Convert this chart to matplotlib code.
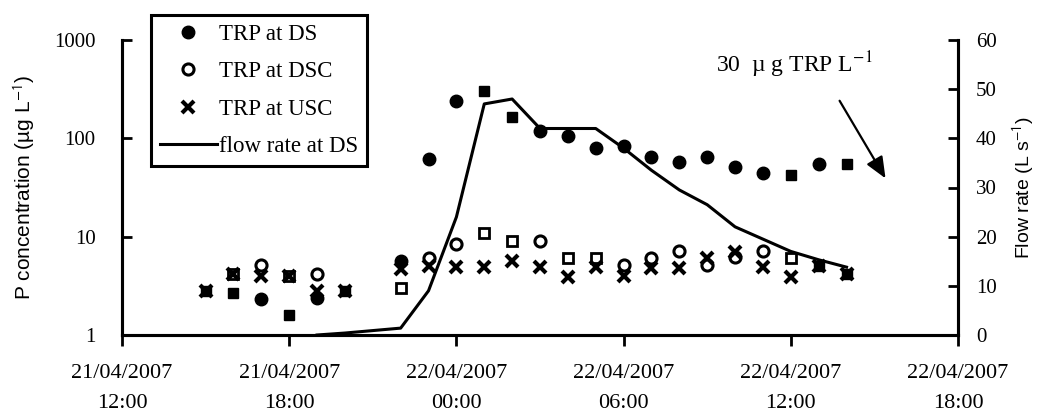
import numpy as np
import matplotlib
matplotlib.use("Agg")
import matplotlib.pyplot as plt
from matplotlib.lines import Line2D

# ── data (hours after 21/04/2007 12:00) ───────────────────
ds_hours = [5, 7, 10, 11, 12, 15, 16, 17, 18, 19, 20, 21, 22, 23, 25]
ds_vals  = [2.3, 2.4, 5.6, 62, 240, 120, 105, 80, 83, 65, 58, 65, 51, 44, 55]

dsc_hours = [5, 7, 11, 12, 15, 18, 19, 20, 21, 22, 23]
dsc_vals  = [5.1, 4.2, 6.0, 8.5, 9.0, 5.2, 6.0, 7.2, 5.2, 6.2, 7.2]

usc_hours = [3, 4, 5, 6, 7, 8, 10, 11, 12, 13, 14, 15, 16, 17, 18, 19, 20, 21, 22, 23, 24, 25, 26]
usc_vals  = [2.8, 4.2, 4.0, 4.0, 2.8, 2.8, 4.7, 5.0, 4.9, 4.9, 5.6, 4.9, 3.9, 4.9,
             4.0, 4.8, 4.8, 6.0, 7.0, 4.9, 3.9, 5.0, 4.2]

# square markers with no legend entry in the original
sqf_hours = [3, 4, 6, 8, 13, 14, 24, 25, 26, 26]
sqf_vals  = [2.8, 2.7, 1.6, 2.8, 300, 165, 42, 5.0, 55, 4.2]

sqo_hours = [4, 6, 10, 13, 14, 16, 17, 24]
sqo_vals  = [4.2, 4.0, 3.0, 11, 9.0, 6.0, 6.0, 6.0]

flow_hours = [7, 8, 9, 10, 11, 12, 13, 14, 15, 16, 17, 18, 19, 20, 21, 22, 23, 24, 25, 26]
flow_vals  = [0, 0.4, 0.9, 1.4, 9, 24, 47, 48, 42, 42, 42, 38, 33.5, 29.5, 26.5, 22,
              19.5, 17, 15.3, 13.8]

xtick_pos = [0, 6, 12, 18, 24, 30]
xtick_lab = ["21/04/2007\n12:00", "21/04/2007\n18:00", "22/04/2007\n00:00",
             "22/04/2007\n06:00", "22/04/2007\n12:00", "22/04/2007\n18:00"]

# ── plot ──────────────────────────────────────────────────
serif = "Liberation Serif"
sans = "Liberation Sans"
plt.rcParams["mathtext.fontset"] = "stix"

fig = plt.figure(figsize=(10.46, 4.16), dpi=100)
ax = fig.add_axes([122/1046, 1-335/416, 836/1046, 295/416])
ax2 = ax.twinx()

ms = 8
ax.plot(sqf_hours, sqf_vals, ls="none", marker="s", ms=ms-1, color="black")
ax.plot(sqo_hours, sqo_vals, ls="none", marker="s", ms=ms-1.5, mfc="white",
        mec="black", mew=2)
ax.plot(ds_hours, ds_vals, ls="none", marker="o", ms=ms+1, color="black")
ax.plot(dsc_hours, dsc_vals, ls="none", marker="o", ms=ms, mfc="white",
        mec="black", mew=2.2)
ax.plot(usc_hours, usc_vals, ls="none", marker="x", ms=ms, mec="black", mew=3)

ax2.plot(flow_hours, flow_vals, color="black", lw=2.2)

ax.set_yscale("log")
ax.set_ylim(1, 1000)
ax.set_xlim(0, 30)
ax2.set_ylim(0, 60)
ax2.set_yticks(range(0, 61, 10))

ax.set_yticks([1, 10, 100, 1000])
ax.set_yticklabels(["1", "10", "100", "1000"])
ax.yaxis.set_minor_locator(matplotlib.ticker.NullLocator())
ax.set_xticks(xtick_pos)
ax.set_xticklabels(xtick_lab, linespacing=1.8)

for a in (ax, ax2):
    a.spines["top"].set_visible(False)
    for s in ("left", "right", "bottom"):
        a.spines[s].set_linewidth(2.2)
ax.tick_params(axis="y", direction="in", length=7, width=2, pad=19, labelsize=15)
ax2.tick_params(axis="y", direction="in", length=7, width=2, pad=13, labelsize=15)
ax.tick_params(axis="x", direction="out", length=8, width=2, pad=13, labelsize=16)
for lab in ax.get_xticklabels() + ax.get_yticklabels() + ax2.get_yticklabels():
    lab.set_fontfamily(serif)

ax.set_ylabel("P concentration (µg L$^{\\mathsf{-1}}$)", family=sans, fontsize=15,
              labelpad=12)
ax2.set_ylabel("Flow rate (L s$^{\\mathsf{-1}}$)", family=sans, fontsize=14,
               labelpad=10)

ax.annotate("", xy=(27.45, 37), xytext=(25.7, 255),
            arrowprops=dict(arrowstyle="-|>,head_length=1.3,head_width=0.55",
                            color="black", lw=1.6))
ax.text(21.3, 560, "30  µ g TRP L$^{-1}$", family=serif, fontsize=17, va="center")

handles = [
    Line2D([], [], ls="none", marker="o", ms=ms+1, color="black"),
    Line2D([], [], ls="none", marker="o", ms=ms, mfc="white", mec="black", mew=2.2),
    Line2D([], [], ls="none", marker="x", ms=ms, mec="black", mew=3),
    Line2D([], [], color="black", lw=2.2),
]
labels = ["TRP at DS", "TRP at DSC", "TRP at USC", "flow rate at DS"]
leg = fig.legend(handles, labels, loc="upper left",
                 bbox_to_anchor=(151/1046, 1-15/416), borderaxespad=0,
                 prop={"family": serif, "size": 16.5}, frameon=True, fancybox=False,
                 edgecolor="black", framealpha=1, handlelength=2.5,
                 handletextpad=0.1, labelspacing=0.72, borderpad=0.38)
leg.get_frame().set_linewidth(2.2)

fig.savefig("out.png", dpi=100)
